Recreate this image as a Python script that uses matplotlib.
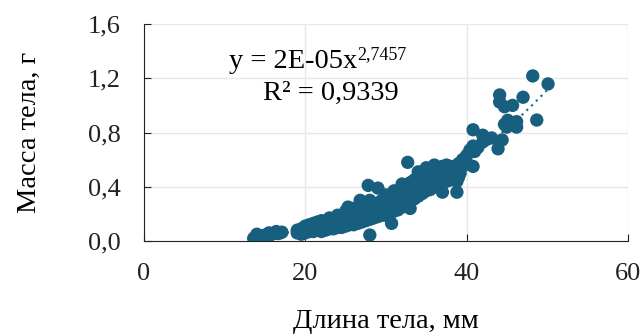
import numpy as np
import matplotlib
matplotlib.use("Agg")
import matplotlib.pyplot as plt

plt.rcParams['font.family'] = ['Liberation Serif', 'DejaVu Serif']

# длина тела (мм) и масса тела (г)
length = [13.6, 13.9, 14.2, 14.5, 14.8, 15.1, 15.4, 15.7, 16.0, 16.3, 16.6, 16.9, 17.1, 14.0, 15.5, 16.4,
          19.0, 19.0, 19.5, 19.5, 19.5, 20.0, 20.0, 20.0, 20.5, 20.5, 20.5, 21.0, 21.0, 21.0,
          21.5, 21.5, 21.5, 22.0, 22.0, 22.0, 22.0, 22.5, 22.5, 22.5, 23.0, 23.0, 23.0, 23.0,
          23.5, 23.5, 23.5, 24.0, 24.0, 24.0, 24.0, 24.5, 24.5, 24.5, 25.0, 25.0, 25.0, 25.0, 25.3,
          25.5, 25.5, 25.5, 26.0, 26.0, 26.0, 26.0, 26.5, 26.5, 26.5, 26.8, 27.0, 27.0, 27.0, 27.0,
          27.5, 27.5, 27.5, 27.8, 28.0, 28.0, 28.0, 28.0, 28.0, 28.5, 28.5, 28.5, 29.0, 29.0, 29.0, 29.0,
          29.5, 29.5, 29.5, 30.0, 30.0, 30.0, 30.0, 30.5, 30.5, 30.5, 30.7, 31.0, 31.0, 31.0, 31.0,
          31.5, 31.5, 31.5, 32.0, 32.0, 32.0, 32.0, 32.5, 32.5, 32.5, 32.7, 33.0, 33.0, 33.0, 33.0,
          33.5, 33.5, 33.5, 34.0, 34.0, 34.0, 34.0, 34.5, 34.5, 34.5, 35.0, 35.0, 35.0, 35.0,
          35.5, 35.5, 35.5, 36.0, 36.0, 36.0, 36.0, 36.5, 36.5, 36.5, 37.0, 37.0, 37.0, 37.0,
          37.5, 37.5, 37.5, 38.0, 38.0, 38.0, 38.5, 38.5, 38.8, 38.8, 39.0, 39.0, 39.0, 39.2,
          39.5, 39.5, 40.0, 40.0, 40.4, 40.8, 40.8, 40.8, 41.0, 41.4, 42.0, 42.0, 42.5, 43.1,
          43.9, 44.1, 44.1, 44.4, 44.7, 44.7, 45.0, 45.1, 45.7, 46.2, 46.2, 47.0, 48.2, 48.7, 50.1]
mass = [0.02, 0.03, 0.035, 0.03, 0.04, 0.045, 0.05, 0.045, 0.055, 0.06, 0.055, 0.06, 0.065, 0.05, 0.06, 0.07,
        0.06, 0.08, 0.07, 0.09, 0.05, 0.06, 0.09, 0.11, 0.07, 0.10, 0.12, 0.07, 0.10, 0.13,
        0.08, 0.11, 0.14, 0.07, 0.10, 0.13, 0.15, 0.08, 0.11, 0.14, 0.09, 0.12, 0.15, 0.17,
        0.09, 0.13, 0.16, 0.10, 0.13, 0.17, 0.19, 0.10, 0.14, 0.18, 0.11, 0.15, 0.19, 0.22, 0.25,
        0.12, 0.16, 0.20, 0.12, 0.17, 0.21, 0.24, 0.13, 0.18, 0.22, 0.30, 0.14, 0.19, 0.23, 0.27,
        0.15, 0.20, 0.25, 0.41, 0.044, 0.16, 0.21, 0.26, 0.30, 0.17, 0.22, 0.27, 0.18, 0.23, 0.28, 0.39,
        0.19, 0.24, 0.30, 0.19, 0.25, 0.31, 0.34, 0.20, 0.27, 0.33, 0.13, 0.22, 0.28, 0.34, 0.37,
        0.23, 0.30, 0.36, 0.25, 0.32, 0.38, 0.42, 0.27, 0.34, 0.40, 0.58, 0.24, 0.29, 0.36, 0.43,
        0.31, 0.38, 0.45, 0.33, 0.40, 0.47, 0.51, 0.35, 0.42, 0.49, 0.37, 0.44, 0.50, 0.54,
        0.38, 0.45, 0.52, 0.40, 0.46, 0.53, 0.56, 0.41, 0.47, 0.54, 0.36, 0.43, 0.48, 0.55,
        0.44, 0.50, 0.56, 0.45, 0.50, 0.55, 0.46, 0.51, 0.36, 0.44, 0.47, 0.52, 0.57, 0.50,
        0.55, 0.60, 0.58, 0.63, 0.67, 0.55, 0.82, 0.70, 0.66, 0.69, 0.78, 0.73, 0.75, 0.76,
        0.68, 1.077, 1.025, 0.745, 0.99, 0.86, 0.84, 0.89, 1.00, 0.84, 0.88, 1.06, 1.217, 0.892, 1.158]

xticks = [0, 20, 40, 60]
yticks = [0.0, 0.4, 0.8, 1.2, 1.6]

x = np.array(length)
y = np.array(mass)
b, loga = np.polyfit(np.log(x), np.log(y), 1)
xf = np.linspace(x.min(), x.max(), 200)
yf = np.exp(loga) * xf ** b

fig = plt.figure(figsize=(6.44, 3.36), dpi=100)
ax = fig.add_axes([0.2236, 0.2827, 0.7514, 0.6459])

ax.plot(xf, yf, linestyle=(0, (1, 2)), color='#2c6e91', lw=1.6, zorder=2)
ax.scatter(x, y, s=92, color='#175e7f', edgecolors='none', zorder=3)

ax.set_xlim(0, 60)
ax.set_ylim(0, 1.6)
ax.set_xticks(xticks)
ax.set_yticks(yticks)
ax.set_xticklabels([str(t) for t in xticks])
ax.set_yticklabels([f"{t:.1f}".replace('.', ',') for t in yticks])
ax.grid(True, color='#e8e8e8', lw=1)
ax.set_axisbelow(True)
for s in ['top', 'right']:
    ax.spines[s].set_visible(False)
for s in ['left', 'bottom']:
    ax.spines[s].set_color('#222222')
ax.tick_params(axis='both', direction='in', length=5, labelsize=19, colors='#222222')
ax.tick_params(axis='x', pad=16)
ax.tick_params(axis='y', pad=17)

ax.set_xlabel("Длина тела, мм", fontsize=20.5)
ax.set_ylabel("Масса тела, г", fontsize=20.5)
ax.xaxis.label.set_va('center')
ax.yaxis.label.set_va('center')
ax.xaxis.set_label_coords(0.5, -0.373)
ax.yaxis.set_label_coords(-0.236, 0.5)

t1 = ax.text(0.440, 0.825, "y = 2E-05x", transform=ax.transAxes, fontsize=20.5,
             ha='right', va='center')
ax.annotate("2,7457", xy=(1.0, 0.45), xycoords=t1, fontsize=13, va='bottom', ha='left')
ax.text(0.387, 0.682, "R² = 0,9339", transform=ax.transAxes, fontsize=20.5,
        ha='center', va='center')

fig.savefig("out.png", dpi=100)
